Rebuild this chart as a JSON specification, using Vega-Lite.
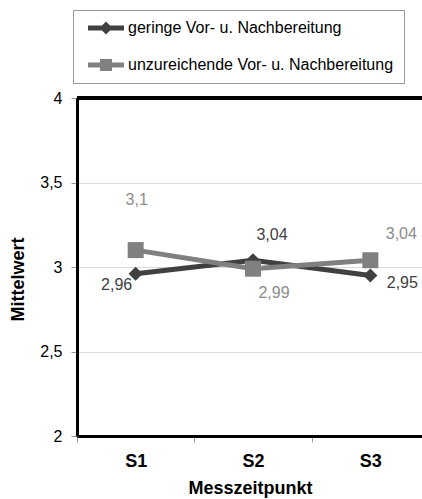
{
  "$schema": "https://vega.github.io/schema/vega-lite/v6.json",
  "width": 345,
  "height": 338,
  "autosize": {"type": "none"},
  "padding": {"left": 77, "top": 98, "right": 0, "bottom": 63},
  "background": "white",
  "config": {
    "font": "Liberation Sans",
    "view": {"stroke": null},
    "locale": {"number": {"decimal": ",", "thousands": ".", "grouping": [3], "currency": ["", " €"]}}
  },
  "data": {
    "values": [
      {"zeit": "S1", "serie": "geringe Vor- u. Nachbereitung", "wert": 2.96},
      {"zeit": "S2", "serie": "geringe Vor- u. Nachbereitung", "wert": 3.04},
      {"zeit": "S3", "serie": "geringe Vor- u. Nachbereitung", "wert": 2.95},
      {"zeit": "S1", "serie": "unzureichende Vor- u. Nachbereitung", "wert": 3.1},
      {"zeit": "S2", "serie": "unzureichende Vor- u. Nachbereitung", "wert": 2.99},
      {"zeit": "S3", "serie": "unzureichende Vor- u. Nachbereitung", "wert": 3.04}
    ]
  },
  "encoding": {
    "x": {
      "field": "zeit", "type": "nominal",
      "scale": {"type": "band", "paddingInner": 0, "paddingOuter": 0, "range": [0, 352]},
      "axis": {
        "title": "Messzeitpunkt", "labelAngle": 0,
        "labelFontSize": 18, "labelFontWeight": "bold", "labelColor": "#000", "labelPadding": 10,
        "tickBand": "extent", "tickSize": 6, "tickColor": "#999", "tickWidth": 1,
        "domainColor": "#000", "domainWidth": 3,
        "titleFontSize": 18, "titleFontWeight": "bold", "titleColor": "#000",
        "titleX": 173, "titleY": 52, "titleBaseline": "middle", "titleAlign": "center",
        "grid": false
      }
    },
    "y": {
      "field": "wert", "type": "quantitative",
      "scale": {"domain": [2, 4], "nice": false, "zero": false},
      "axis": {
        "title": "Mittelwert", "values": [2, 2.5, 3, 3.5, 4], "format": ".1~f",
        "labelFontSize": 16, "labelColor": "#000", "labelPadding": 9,
        "tickSize": 6, "tickColor": "#999", "tickWidth": 1,
        "domainColor": "#000", "domainWidth": 3,
        "grid": true, "gridColor": "#d9d9d9", "gridWidth": 1,
        "titleFontSize": 18, "titleFontWeight": "bold", "titleColor": "#000",
        "titleX": -59, "titleY": 181, "titleAngle": 270, "titleBaseline": "middle", "titleAlign": "center"
      }
    }
  },
  "layer": [
    {
      "mark": {"type": "rule", "color": "#000", "strokeWidth": 3},
      "encoding": {"y": {"datum": 4}, "x": null}
    },
    {
      "mark": {"type": "line", "strokeWidth": 5},
      "encoding": {
        "color": {
          "field": "serie", "type": "nominal",
          "scale": {"domain": ["geringe Vor- u. Nachbereitung", "unzureichende Vor- u. Nachbereitung"], "range": ["#404040", "#808080"]},
          "legend": {
            "title": null, "orient": "none", "legendX": -4, "legendY": -88,
            "strokeColor": "#999", "padding": 10, "rowPadding": 21,
            "symbolType": "M-2.57,-0.36 L2.57,-0.36 L2.57,0.36 L-2.57,0.36 Z",
            "symbolSize": 196, "symbolStrokeWidth": 0, "symbolOffset": 15,
            "labelFontSize": 16, "labelColor": "#000", "labelOffset": 14, "labelLimit": 400,
            "encode": {
              "symbols": {
                "update": {
                  "shape": {"signal": "datum.value === 'geringe Vor- u. Nachbereitung' ? 'M-2.57,-0.36 L2.57,-0.36 L2.57,0.36 L-2.57,0.36 Z M0,-0.93 L0.93,0 L0,0.93 L-0.93,0 Z' : 'M-2.57,-0.36 L2.57,-0.36 L2.57,0.36 L-2.57,0.36 Z M-0.86,-0.86 L0.86,-0.86 L0.86,0.86 L-0.86,0.86 Z'"},
                  "fill": {"signal": "datum.value === 'geringe Vor- u. Nachbereitung' ? '#404040' : '#808080'"},
                  "size": {"value": 196},
                  "strokeWidth": {"value": 0}
                }
              }
            }
          }
        },
        "detail": {"field": "serie"}
      }
    },
    {
      "transform": [{"filter": "datum.serie === 'geringe Vor- u. Nachbereitung'"}],
      "mark": {"type": "point", "filled": true, "opacity": 1, "shape": "diamond", "size": 200, "color": "#404040"}
    },
    {
      "transform": [{"filter": "datum.serie === 'unzureichende Vor- u. Nachbereitung'"}],
      "mark": {"type": "point", "filled": true, "opacity": 1, "shape": "square", "size": 256, "color": "#808080"}
    },
    {
      "transform": [{"filter": "datum.zeit === 'S1' && datum.serie === 'geringe Vor- u. Nachbereitung'"}],
      "mark": {"type": "text", "fontSize": 16, "color": "#404040", "dx": -19, "dy": 11, "align": "center", "baseline": "middle"},
      "encoding": {"text": {"field": "wert", "type": "quantitative", "format": ".2~f"}}
    },
    {
      "transform": [{"filter": "datum.zeit === 'S1' && datum.serie === 'unzureichende Vor- u. Nachbereitung'"}],
      "mark": {"type": "text", "fontSize": 16, "color": "#8c8c8c", "dx": 1, "dy": -50, "align": "center", "baseline": "middle"},
      "encoding": {"text": {"field": "wert", "type": "quantitative", "format": ".2~f"}}
    },
    {
      "transform": [{"filter": "datum.zeit === 'S2' && datum.serie === 'geringe Vor- u. Nachbereitung'"}],
      "mark": {"type": "text", "fontSize": 16, "color": "#404040", "dx": 19, "dy": -25, "align": "center", "baseline": "middle"},
      "encoding": {"text": {"field": "wert", "type": "quantitative", "format": ".2~f"}}
    },
    {
      "transform": [{"filter": "datum.zeit === 'S2' && datum.serie === 'unzureichende Vor- u. Nachbereitung'"}],
      "mark": {"type": "text", "fontSize": 16, "color": "#8c8c8c", "dx": 21, "dy": 24, "align": "center", "baseline": "middle"},
      "encoding": {"text": {"field": "wert", "type": "quantitative", "format": ".2~f"}}
    },
    {
      "transform": [{"filter": "datum.zeit === 'S3' && datum.serie === 'unzureichende Vor- u. Nachbereitung'"}],
      "mark": {"type": "text", "fontSize": 16, "color": "#8c8c8c", "dx": 31, "dy": -26, "align": "center", "baseline": "middle"},
      "encoding": {"text": {"field": "wert", "type": "quantitative", "format": ".2~f"}}
    },
    {
      "transform": [{"filter": "datum.zeit === 'S3' && datum.serie === 'geringe Vor- u. Nachbereitung'"}],
      "mark": {"type": "text", "fontSize": 16, "color": "#404040", "dx": 32, "dy": 8, "align": "center", "baseline": "middle"},
      "encoding": {"text": {"field": "wert", "type": "quantitative", "format": ".2~f"}}
    }
  ]
}
